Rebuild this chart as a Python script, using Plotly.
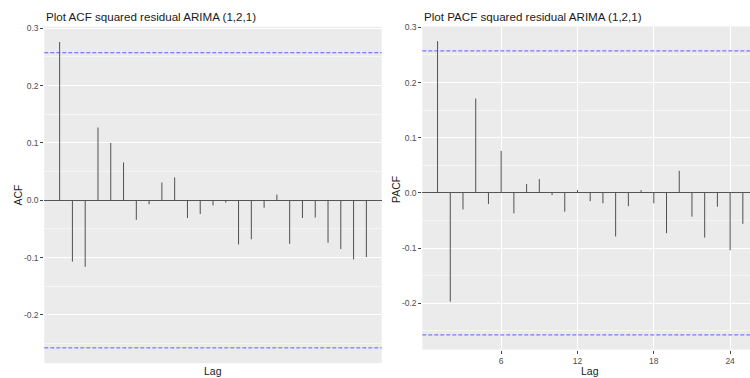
import numpy as np
import plotly.graph_objects as go

lags = list(range(1, 26))
acf_vals = [0.276, -0.107, -0.116, 0.127, 0.100, 0.066, -0.034, -0.007, 0.031, 0.040,
            -0.031, -0.024, -0.009, -0.004, -0.077, -0.068, -0.013, 0.010, -0.076, -0.031,
            -0.030, -0.074, -0.085, -0.103, -0.099]
pacf_vals = [0.275, -0.197, -0.030, 0.171, -0.020, 0.076, -0.037, 0.016, 0.025, -0.004,
             -0.034, 0.005, -0.015, -0.019, -0.079, -0.024, 0.005, -0.019, -0.073, 0.040,
             -0.043, -0.081, -0.025, -0.104, -0.056]
n_obs = 58
ci = 1.96 / np.sqrt(n_obs)

titles = ["Plot ACF squared residual ARIMA (1,2,1)", "Plot PACF squared residual ARIMA (1,2,1)"]
ytitles = ["ACF", "PACF"]
pacf_ticks = [6, 12, 18, 24]
y_ticks = [-0.2, -0.1, 0.0, 0.1, 0.2, 0.3]
y_ticklabels = ["-0.2", "-0.1", "0.0", "0.1", "0.2", "0.3"]

W, H = 750, 378
FONT = "Liberation Sans, Arial, sans-serif"


def seg(xs, ys):
    X, Y = [], []
    for a, b in zip(xs, ys):
        X += [a, a, None]
        Y += [0, b, None]
    return X, Y


fig = go.Figure()
for i, vals in enumerate([acf_vals, pacf_vals]):
    X, Y = seg(lags, vals)
    sfx = "" if i == 0 else "2"
    fig.add_trace(go.Scatter(x=X, y=Y, mode="lines", line=dict(color="#505050", width=1),
                             xaxis="x" + sfx, yaxis="y" + sfx, showlegend=False, hoverinfo="skip"))

# panel pixel geometry
lx0, lx1, ly0, ly1 = 44.3, 381.7, 23.0, 363.0
rx0, rx1, ry0, ry1 = 422.3, 750.0, 22.7, 349.3

yaxis_common = dict(
    tickmode="array", tickvals=y_ticks, ticktext=y_ticklabels,
    showgrid=True, gridcolor="#ffffff", gridwidth=1,
    minor=dict(dtick=0.05, tick0=0, showgrid=True, gridcolor="#f6f6f6", gridwidth=0.7, ticks=""),
    ticks="outside", ticklen=3, tickcolor="#444", tickwidth=0.6,
    tickfont=dict(size=8.5, color="#4d4d4d", family=FONT),
    zeroline=True, zerolinecolor="#555555", zerolinewidth=1,
    showline=False, fixedrange=True,
)

def yrange(vals):
    lo = min(min(vals), -ci)
    hi = max(max(vals), ci)
    pad = (hi - lo) * 0.05
    return [lo - pad, hi + pad]

fig.update_layout(
    width=W, height=H,
    margin=dict(l=0, r=0, t=0, b=0),
    paper_bgcolor="white", plot_bgcolor="#EBEBEB",
    xaxis=dict(domain=[lx0 / W, lx1 / W], range=[-0.2, 26.2], showgrid=False,
               showticklabels=False, ticks="", zeroline=False, fixedrange=True),
    yaxis=dict(domain=[1 - ly1 / H, 1 - ly0 / H], range=yrange(acf_vals), anchor="x", **yaxis_common),
    xaxis2=dict(domain=[rx0 / W, rx1 / W], range=[-0.2, -0.2 + (rx1 - rx0) / 12.72], anchor="y2",
                tickmode="array", tickvals=pacf_ticks, ticktext=[str(t) for t in pacf_ticks],
                showgrid=True, gridcolor="#ffffff", gridwidth=1,
                ticks="outside", ticklen=3, tickcolor="#444", tickwidth=0.6,
                tickfont=dict(size=8.5, color="#4d4d4d", family=FONT),
                zeroline=False, fixedrange=True),
    yaxis2=dict(domain=[1 - ry1 / H, 1 - ry0 / H], range=yrange(pacf_vals), anchor="x2", **yaxis_common),
)

shapes = []
for xr, yr in [("x domain", "y"), ("x2 domain", "y2")]:
    for v in [ci, -ci]:
        shapes.append(dict(type="line", xref=xr, yref=yr, x0=0, x1=1, y0=v, y1=v,
                           line=dict(color="#5c5cff", width=1, dash="4px,2px"), layer="above"))
fig.update_layout(shapes=shapes)

ann = []
for t, x0 in zip(titles, [lx0, rx0]):
    ann.append(dict(text=t, x=x0 / W, y=1 - 12.5 / H, xref="paper", yref="paper",
                    xanchor="left", yanchor="middle", showarrow=False,
                    font=dict(size=11.6, color="#1a1a1a", family=FONT)))
ann.append(dict(text=ytitles[0], x=18.3 / W, y=1 - 193.3 / H, xref="paper", yref="paper",
                xanchor="center", yanchor="middle", textangle=-90, showarrow=False,
                font=dict(size=10.5, color="#222", family=FONT)))
ann.append(dict(text=ytitles[1], x=396 / W, y=1 - 188 / H, xref="paper", yref="paper",
                xanchor="center", yanchor="middle", textangle=-90, showarrow=False,
                font=dict(size=10.5, color="#222", family=FONT)))
for xc in [213.3, 590]:
    ann.append(dict(text="Lag", x=xc / W, y=1 - 370.7 / H, xref="paper", yref="paper",
                    xanchor="center", yanchor="middle", showarrow=False,
                    font=dict(size=10.5, color="#222", family=FONT)))
fig.update_layout(annotations=ann)

fig.write_html("out.html", config={"displayModeBar": False},
               post_script="document.body.style.margin='0';document.body.style.overflow='hidden';")
